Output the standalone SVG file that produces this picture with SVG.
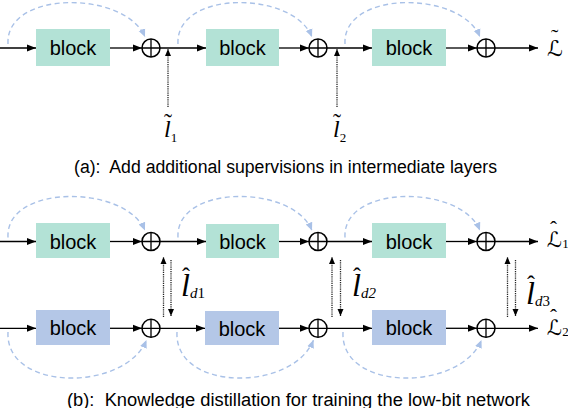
<svg xmlns="http://www.w3.org/2000/svg" width="568" height="408" viewBox="0 0 568 408">
<style>
.bg{fill:#ffffff}
.bt{fill:#b3e2d6}
.bb{fill:#b4c7e7}
.lbl{font-family:"Liberation Sans",Arial,sans-serif;font-size:20px;fill:#000;text-anchor:middle}
.cap{font-family:"Liberation Sans",Arial,sans-serif;font-size:18px;fill:#000;white-space:pre}
.ln{stroke:#000;stroke-width:1.3;fill:none}
.sum{stroke:#000;stroke-width:1.5;fill:#fff}
.dot{stroke:#222;stroke-width:1.3;stroke-dasharray:1.2 1;fill:none}
.arc{stroke:#a9c1e7;stroke-width:1.4;stroke-dasharray:5 3.5;fill:none}
.m{font-family:"Liberation Serif","Times New Roman",serif;fill:#000}
.sc{font-family:"DejaVu Serif","DejaVu Sans",serif;fill:#000}
</style>
<defs>
<marker id="ah" markerUnits="userSpaceOnUse" markerWidth="10" markerHeight="8" refX="9" refY="4" orient="auto">
<path d="M0,0.5 L9,4 L0,7.5 Z" fill="#000"/>
</marker>
<marker id="ahs" markerUnits="userSpaceOnUse" markerWidth="8" markerHeight="8" refX="7" refY="3.5" orient="auto">
<path d="M0,0.5 L7,3.5 L0,6.5 Z" fill="#000"/>
</marker>
<marker id="ab" markerUnits="userSpaceOnUse" markerWidth="10" markerHeight="10" refX="8" refY="4" orient="auto">
<path d="M0,0.5 L8,4 L0,7.5 Z" fill="#a9c1e7"/>
</marker>
<g id="oplus">
<circle cx="0" cy="0" r="9" class="sum"/>
<path d="M-9,0 H9 M0,-9 V9" class="ln" stroke-width="1.2"/>
</g>
</defs>
<rect class="bg" x="0" y="0" width="568" height="408"/>

<g id="connectors">
<line class="ln" x1="0" y1="48" x2="36" y2="48" marker-end="url(#ah)"/>
<line class="ln" x1="110" y1="48" x2="142" y2="48" marker-end="url(#ah)"/>
<line class="ln" x1="160" y1="48" x2="206" y2="48" marker-end="url(#ah)"/>
<line class="ln" x1="279" y1="48" x2="309" y2="48" marker-end="url(#ah)"/>
<line class="ln" x1="327" y1="48" x2="372" y2="48" marker-end="url(#ah)"/>
<line class="ln" x1="446" y1="48" x2="477" y2="48" marker-end="url(#ah)"/>
<line class="ln" x1="495" y1="48" x2="538" y2="48" marker-end="url(#ah)"/>
<line class="dot" x1="168" y1="107" x2="168" y2="49" marker-end="url(#ahs)"/>
<line class="dot" x1="337" y1="107" x2="337" y2="49" marker-end="url(#ahs)"/>
<path class="arc" d="M8,44 C5,-10 125,-10 145,37" marker-end="url(#ab)"/>
<path class="arc" d="M178,44 C175,-10 293,-10 312,37" marker-end="url(#ab)"/>
<path class="arc" d="M345,44 C342,-10 461,-10 480,37" marker-end="url(#ab)"/>

<line class="ln" x1="0" y1="241.5" x2="36" y2="241.5" marker-end="url(#ah)"/>
<line class="ln" x1="110" y1="241.5" x2="142" y2="241.5" marker-end="url(#ah)"/>
<line class="ln" x1="160" y1="241.5" x2="206" y2="241.5" marker-end="url(#ah)"/>
<line class="ln" x1="279" y1="241.5" x2="309" y2="241.5" marker-end="url(#ah)"/>
<line class="ln" x1="327" y1="241.5" x2="372" y2="241.5" marker-end="url(#ah)"/>
<line class="ln" x1="446" y1="241.5" x2="477" y2="241.5" marker-end="url(#ah)"/>
<line class="ln" x1="495" y1="241.5" x2="538" y2="241.5" marker-end="url(#ah)"/>
<line class="ln" x1="0" y1="328.3" x2="36" y2="328.3" marker-end="url(#ah)"/>
<line class="ln" x1="110" y1="328.3" x2="142" y2="328.3" marker-end="url(#ah)"/>
<line class="ln" x1="160" y1="328.3" x2="205" y2="328.3" marker-end="url(#ah)"/>
<line class="ln" x1="279" y1="328.3" x2="309" y2="328.3" marker-end="url(#ah)"/>
<line class="ln" x1="327" y1="328.3" x2="372" y2="328.3" marker-end="url(#ah)"/>
<line class="ln" x1="446" y1="328.3" x2="477" y2="328.3" marker-end="url(#ah)"/>
<line class="ln" x1="495" y1="328.3" x2="538" y2="328.3" marker-end="url(#ah)"/>
<line class="dot" x1="163.5" y1="317" x2="163.5" y2="257" marker-end="url(#ahs)"/>
<line class="dot" x1="171" y1="260" x2="171" y2="316" marker-end="url(#ahs)"/>
<line class="dot" x1="332" y1="317" x2="332" y2="257" marker-end="url(#ahs)"/>
<line class="dot" x1="340.5" y1="260" x2="340.5" y2="316" marker-end="url(#ahs)"/>
<line class="dot" x1="507.5" y1="317" x2="507.5" y2="257" marker-end="url(#ahs)"/>
<line class="dot" x1="515.5" y1="260" x2="515.5" y2="316" marker-end="url(#ahs)"/>
<path class="arc" d="M8,237.5 C5,184 125,184 145,230.5" marker-end="url(#ab)"/>
<path class="arc" d="M178,237.5 C175,184 293,184 312,230.5" marker-end="url(#ab)"/>
<path class="arc" d="M345,237.5 C342,184 461,184 480,230.5" marker-end="url(#ab)"/>
<path class="arc" d="M8,332 C5,392 125,392 146.5,340" marker-end="url(#ab)"/>
<path class="arc" d="M177,332 C174,392 293,392 313.5,340" marker-end="url(#ab)"/>
<path class="arc" d="M343,332 C340,392 460,392 481.5,340" marker-end="url(#ab)"/>
</g>

<g id="a-block1"><rect class="bt" x="36" y="29" width="74" height="37"/><text class="lbl" x="73" y="55">block</text></g>
<g id="a-sum1"><use href="#oplus" x="151" y="48"/></g>
<g id="a-block2"><rect class="bt" x="206" y="29" width="73" height="37"/><text class="lbl" x="242.5" y="55">block</text></g>
<g id="a-sum2"><use href="#oplus" x="318" y="48"/></g>
<g id="a-block3"><rect class="bt" x="372" y="29" width="74" height="37"/><text class="lbl" x="409" y="55">block</text></g>
<g id="a-sum3"><use href="#oplus" x="486" y="48"/></g>
<g id="a-l1">
<text class="m" font-size="24"><tspan x="164" y="130">˜</tspan><tspan x="164" y="137" font-style="italic">l</tspan><tspan font-size="13" dy="5">1</tspan></text>
</g>
<g id="a-l2">
<text class="m" font-size="24"><tspan x="333" y="130">˜</tspan><tspan x="333" y="137" font-style="italic">l</tspan><tspan font-size="13" dy="5">2</tspan></text>
</g>
<g id="a-loss">
<text class="sc" font-size="22"><tspan class="m" x="551" y="44">˜</tspan><tspan x="547" y="56">ℒ</tspan></text>
</g>
<text class="cap" x="74" y="172.5" textLength="423" lengthAdjust="spacingAndGlyphs">(a):  Add additional supervisions in intermediate layers</text>

<g id="b-t-block1"><rect class="bt" x="36" y="223" width="74" height="35"/><text class="lbl" x="73" y="248.5">block</text></g>
<g id="b-t-sum1"><use href="#oplus" x="151" y="241.5"/></g>
<g id="b-t-block2"><rect class="bt" x="206" y="224" width="73" height="34"/><text class="lbl" x="242.5" y="249">block</text></g>
<g id="b-t-sum2"><use href="#oplus" x="318" y="241.5"/></g>
<g id="b-t-block3"><rect class="bt" x="372" y="223" width="74" height="35"/><text class="lbl" x="409" y="248.5">block</text></g>
<g id="b-t-sum3"><use href="#oplus" x="486" y="241.5"/></g>

<g id="b-b-block1"><rect class="bb" x="36" y="310" width="74" height="35"/><text class="lbl" x="73" y="335">block</text></g>
<g id="b-b-sum1"><use href="#oplus" x="151" y="328.3"/></g>
<g id="b-b-block2"><rect class="bb" x="205" y="311" width="74" height="34"/><text class="lbl" x="242" y="336">block</text></g>
<g id="b-b-sum2"><use href="#oplus" x="318" y="328.3"/></g>
<g id="b-b-block3"><rect class="bb" x="372" y="310" width="74" height="35"/><text class="lbl" x="409" y="335">block</text></g>
<g id="b-b-sum3"><use href="#oplus" x="486" y="328.3"/></g>

<g id="b-ld1">
<text class="m" font-size="32"><tspan x="182" y="284" font-size="24">ˆ</tspan><tspan x="181" y="296" font-style="italic">l</tspan><tspan font-size="15" font-style="italic" dy="2">d</tspan><tspan font-size="15">1</tspan></text>
</g>
<g id="b-ld2">
<text class="m" font-size="32"><tspan x="353" y="284" font-size="24">ˆ</tspan><tspan x="352" y="296" font-style="italic">l</tspan><tspan font-size="15" font-style="italic" dy="2">d</tspan><tspan font-size="15" font-style="italic">2</tspan></text>
</g>
<g id="b-ld3">
<text class="m" font-size="32"><tspan x="527" y="292" font-size="24">ˆ</tspan><tspan x="526" y="304" font-style="italic">l</tspan><tspan font-size="15" font-style="italic" dy="2">d</tspan><tspan font-size="15">3</tspan></text>
</g>
<g id="b-loss1">
<text class="sc" font-size="21"><tspan class="m" x="550" y="236">ˆ</tspan><tspan x="547" y="247">ℒ</tspan><tspan class="m" font-size="13" dy="1">1</tspan></text>
</g>
<g id="b-loss2">
<text class="sc" font-size="21"><tspan class="m" x="550" y="324">ˆ</tspan><tspan x="547" y="335">ℒ</tspan><tspan class="m" font-size="13" dy="1">2</tspan></text>
</g>
<text class="cap" x="67" y="405.5" textLength="463" lengthAdjust="spacingAndGlyphs">(b):  Knowledge distillation for training the low-bit network</text>
</svg>
